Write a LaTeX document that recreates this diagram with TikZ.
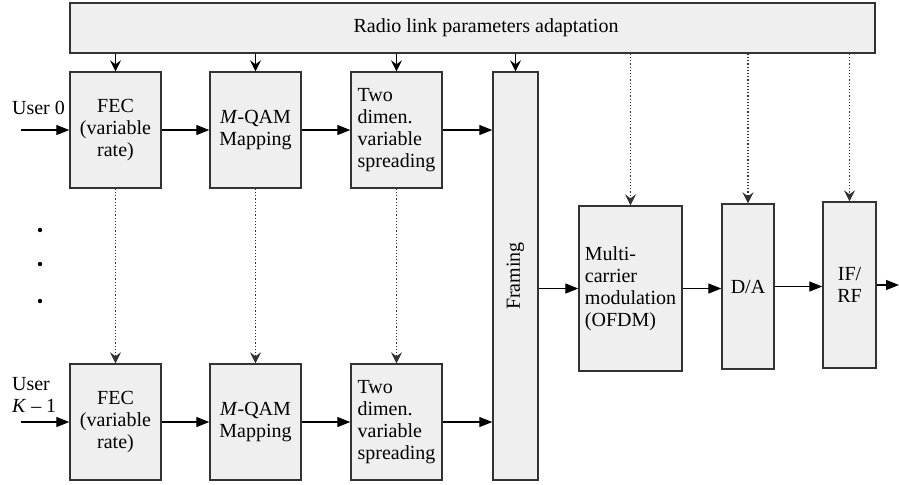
\documentclass[tikz,border=0pt]{standalone}
\usepackage{fontspec}
\setmainfont{Liberation Serif}
\usetikzlibrary{arrows.meta}
\definecolor{rlFill}{HTML}{EFEFEF}
\definecolor{rlEdge}{HTML}{333333}
\tikzset{
  rl box/.style={draw=rlEdge, fill=rlFill, line width=0.7pt, inner sep=0pt, align=center},
  rl text/.style={font=\rmfamily\fontsize{10}{10.9}\selectfont},
  rl flow/.style={draw=black, line width=0.6pt, -{Triangle[length=6.5pt,width=5pt]}},
  rl ctrl/.style={draw=black, line width=0.6pt, -{Stealth[length=5.5pt,width=5.5pt,inset=2pt]}},
  rl hint/.style={draw=rlEdge, densely dotted, line width=0.6pt, -{Stealth[length=5.5pt,width=5.5pt,inset=2pt]}},
}

\begin{document}
\begin{tikzpicture}[x=0.5pt,y=-0.5pt,rl text]
\useasboundingbox (0,0) rectangle (899,484);
% control bar
\node[rl box, minimum width=402.5pt, minimum height=25pt] (adapt) at (472.5,28) {};
\node (adaptlbl) at (486,28) {Radio link parameters adaptation};
% user rows
\foreach \r/\y in {0/130,1/422}{
  \node[rl box, minimum width=45.5pt, minimum height=58pt] (fec\r) at (115.5,\y) {FEC\\(variable\\rate)};
  \node[rl box, minimum width=45.5pt, minimum height=58pt] (map\r) at (255.5,\y) {\textit{M}-QAM\\Mapping};
  \node[rl box, minimum width=45.5pt, minimum height=58pt, align=left] (spr\r) at (396.5,\y) {Two\\dimen.\\variable\\spreading};
}
\node[rl box, minimum width=22.5pt, minimum height=204pt] (frame) at (515.5,276) {\rotatebox{90}{Framing}};
\node[rl box, minimum width=51.5pt, minimum height=82.5pt, align=left] (mcm) at (630.5,288.5) {Multi-\\carrier\\modulation\\(OFDM)};
\node[rl box, minimum width=26pt, minimum height=82.5pt] (da) at (748,286.5) {D/A};
\node[rl box, minimum width=26.5pt, minimum height=83pt] (ifrf) at (849.5,285) {IF/\\RF};
% inputs
\node[anchor=west] (usr0) at (5,108) {User 0};
\node[anchor=west, align=left] (usrk) at (5,395) {User\\\textit{K} \textendash\ 1};
\coordinate (in0) at (21,130);
\coordinate (ink) at (21,422);
\coordinate (out) at (899,285);
\fill (40,230) circle (1.1pt) (40,264) circle (1.1pt) (40,301) circle (1.1pt);
% data path
\draw[rl flow] (in0) -- (fec0.west);
\draw[rl flow] (ink) -- (fec1.west);
\foreach \r in {0,1}{
  \draw[rl flow] (fec\r.east) -- (map\r.west);
  \draw[rl flow] (map\r.east) -- (spr\r.west);
  \draw[rl flow] (spr\r.east) -- (spr\r.east -| frame.west);
}
\draw[rl flow] (frame.east |- mcm.west) -- (mcm.west);
\draw[rl flow] (mcm.east) -- (mcm.east -| da.west);
\draw[rl flow] (da.east) -- (da.east -| ifrf.west);
\draw[rl flow] (ifrf.east) -- (out);
% adaptation
\foreach \b in {fec0,map0,spr0,frame}{\draw[rl ctrl] (adapt.south -| \b.north) -- (\b.north);}
\foreach \b in {mcm,da,ifrf}{\draw[rl hint] (adapt.south -| \b.north) -- (\b.north);}
\foreach \b in {fec,map,spr}{\draw[rl hint] (\b0.south) -- (\b1.north);}
\end{tikzpicture}
\end{document}
